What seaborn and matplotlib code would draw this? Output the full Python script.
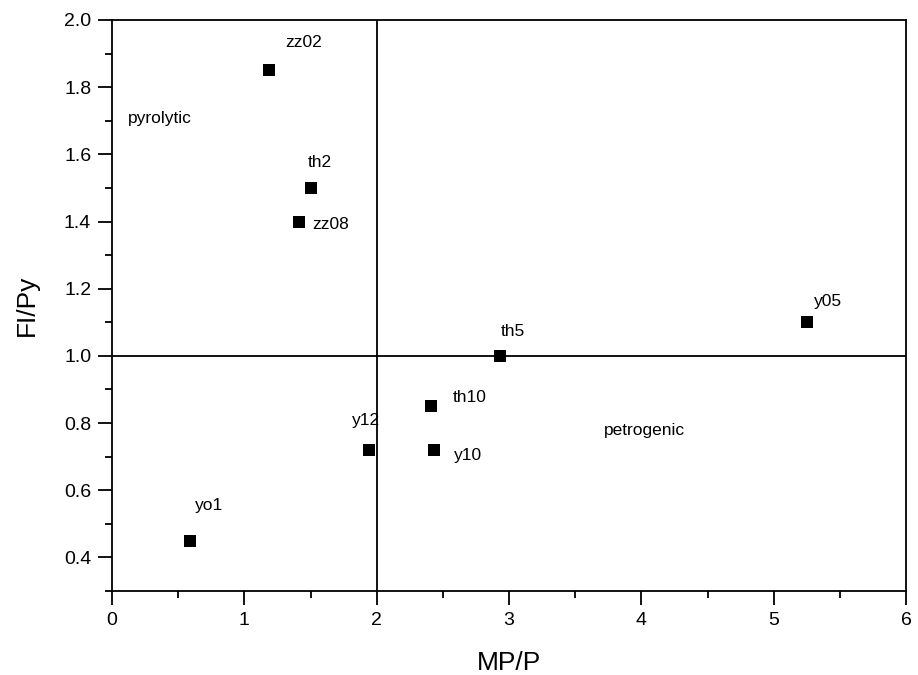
import matplotlib
matplotlib.use("Agg")
import matplotlib.pyplot as plt
import seaborn as sns
import pandas as pd
from matplotlib.ticker import MultipleLocator, FormatStrFormatter

# sample ratios
samples = ["zz02", "th2", "zz08", "y05", "th5", "th10", "y12", "y10", "yo1"]
mp_p = [1.19, 1.50, 1.41, 5.25, 2.93, 2.41, 1.94, 2.43, 0.59]
fl_py = [1.85, 1.50, 1.40, 1.10, 1.00, 0.85, 0.72, 0.72, 0.45]
# label offsets in pixels (dx, dy)
label_dx = [16, -3, 14, 7, 1, 22, -17, 20, 5]
label_dy = [28, 25, -3, 21, 24, 9, 29, -6, 35]

df = pd.DataFrame({"sample": samples, "MP/P": mp_p, "Fl/Py": fl_py})

sns.set_style("ticks")
plt.rcParams["font.family"] = ["Liberation Sans", "DejaVu Sans"]
plt.rcParams["text.color"] = "black"
plt.rcParams["axes.labelcolor"] = "black"
plt.rcParams["xtick.color"] = "black"
plt.rcParams["ytick.color"] = "black"

fig = plt.figure(figsize=(9.18, 6.75), dpi=100)
ax = fig.add_axes([0.122, 0.1244, 0.865, 0.846])

ax.axvline(2, color="black", lw=1.3, zorder=1)
ax.axhline(1.0, color="black", lw=1.3, zorder=1)

sns.scatterplot(data=df, x="MP/P", y="Fl/Py", marker="s", s=75, color="black",
                edgecolor="black", linewidth=0, ax=ax, zorder=3)

for name, x, y, dx, dy in zip(samples, mp_p, fl_py, label_dx, label_dy):
    ax.annotate(name, (x, y), xytext=(dx, dy), textcoords="offset pixels",
                fontsize=12.5, va="center", ha="left")

ax.text(0.12, 1.708, "pyrolytic", fontsize=12.5, va="center", ha="left")
ax.text(3.72, 0.779, "petrogenic", fontsize=12.5, va="center", ha="left")

ax.set_xlim(0, 6)
ax.set_ylim(0.3, 2.0)
ax.xaxis.set_major_locator(MultipleLocator(1))
ax.xaxis.set_minor_locator(MultipleLocator(0.5))
ax.yaxis.set_major_locator(MultipleLocator(0.2))
ax.yaxis.set_minor_locator(MultipleLocator(0.1))
ax.yaxis.set_major_formatter(FormatStrFormatter("%.1f"))

ax.tick_params(which="major", length=10, width=1.3, labelsize=14, color="black", pad=5)
ax.tick_params(which="minor", length=5, width=1.3, color="black")
for sp in ax.spines.values():
    sp.set_visible(True)
    sp.set_linewidth(1.3)
    sp.set_color("black")

ax.set_xlabel("MP/P", fontsize=19, labelpad=16)
ax.set_ylabel("FI/Py", fontsize=19, labelpad=18)

fig.savefig("out.png", dpi=100)
